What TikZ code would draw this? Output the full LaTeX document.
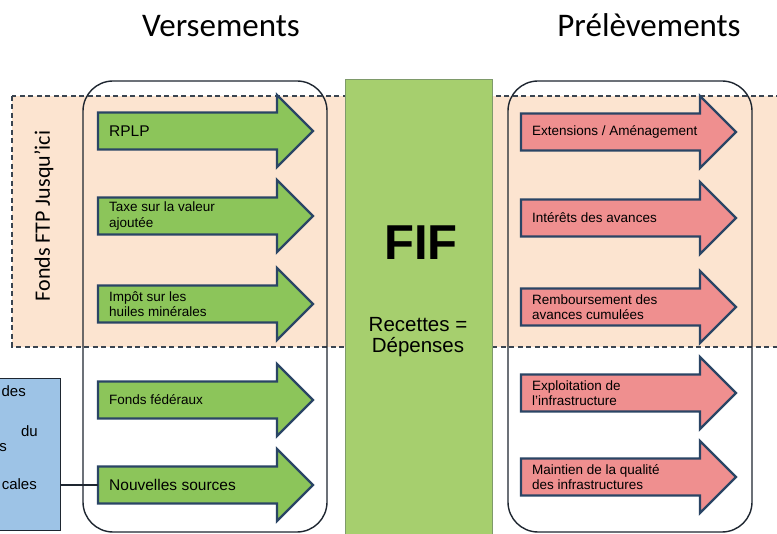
\documentclass[tikz,border=0pt]{standalone}
\usepackage{fontspec}
\setmainfont{Liberation Sans}
\newfontfamily\calfont{Carlito}
\definecolor{peach}{HTML}{FCE4D0}
\definecolor{dashcol}{HTML}{3A4450}
\definecolor{fifgreen}{HTML}{A6CF6E}
\definecolor{fifedge}{HTML}{7E9A6A}
\definecolor{agreen}{HTML}{8CC55A}
\definecolor{ared}{HTML}{EF8F8F}
\definecolor{aedge}{HTML}{2A4565}
\definecolor{bluefill}{HTML}{9DC3E6}
\definecolor{boxline}{HTML}{1E2630}
\tikzset{
  zone/.style={fill=peach, draw=dashcol, line width=1.2pt, dash pattern=on 5pt off 3.5pt},
  panel/.style={draw=boxline, line width=1.4pt, rounded corners=30pt},
  fifbox/.style={fill=fifgreen, draw=fifedge, line width=0.8pt},
  bodybox/.style={inner sep=0pt, minimum width=179pt, minimum height=37pt},
  arrowshape/.style={draw=aedge, line width=2.3pt, line join=miter},
  arrowtext/.style={inner sep=0pt, align=left, font=\fontsize{13.5}{15.5}\selectfont},
  title/.style={font=\calfont\fontsize{33}{33}\selectfont},
  srcbox/.style={fill=bluefill, draw=boxline, line width=1pt, inner sep=0pt},
  srctext/.style={inner sep=0pt, font=\fontsize{15}{17}\selectfont},
  conn/.style={draw=boxline, line width=1.2pt}
}
\newcommand\flowarrow[5]{%
  \node[bodybox, anchor=west] (#1) at (#2,#3) {};
  \path[arrowshape, fill=#4] (#2,#3-18.5) -- (#2+179,#3-18.5) -- (#2+179,#3-36)
     -- (#2+215,#3) -- (#2+179,#3+36) -- (#2+179,#3+18.5) -- (#2,#3+18.5) -- cycle;
  \node[arrowtext, anchor=west] (#1t) at (#2+11,#3) {#5};
}
\begin{document}
\begin{tikzpicture}[x=1pt,y=-1pt]
\useasboundingbox (0,0) rectangle (777,534);
\clip (0,0) rectangle (777,534);
\fill[white] (0,0) rectangle (777,534);

% titles
\node[title, anchor=base] (tvers) at (221,37) {Versements};
\node[title, anchor=base] (tprel) at (649,37) {Prélèvements};

% dashed zone
\path[zone] (12,96) rectangle (800,347);
\node[rotate=90, font=\calfont\fontsize{22}{22}\selectfont] (ftp) at (44,216) {Fonds FTP Jusqu’ici};

% panels
\path[panel] (83,81) rectangle (327,532);
\path[panel] (508,81) rectangle (752,532);

% FIF
\path[fifbox] (345,79) rectangle (492,540);
\node[font=\bfseries\fontsize{49}{49}\selectfont] (fif) at (421,243) {FIF};
\node[align=center, font=\fontsize{20.5}{21}\selectfont] (rd) at (418,337) {Recettes =\\Dépenses};

% green arrows
\flowarrow{g1}{98}{131}{agreen}{\fontsize{15.5}{17}\selectfont RPLP}
\flowarrow{g2}{98}{216}{agreen}{Taxe sur la valeur\\ajoutée}
\flowarrow{g3}{98}{304}{agreen}{Impôt sur les\\huiles minérales}
\flowarrow{g4}{98}{400}{agreen}{Fonds fédéraux}
\flowarrow{g5}{98}{485}{agreen}{\fontsize{15.5}{17}\selectfont Nouvelles sources}

% red arrows
\flowarrow{r1}{521}{132}{ared}{Extensions / Aménagement}
\flowarrow{r2}{521}{218}{ared}{Intérêts des avances}
\flowarrow{r3}{521}{307}{ared}{Remboursement des\\avances cumulées}
\flowarrow{r4}{521}{393}{ared}{Exploitation de\\l’infrastructure}
\flowarrow{r5}{521}{477}{ared}{Maintien de la qualité\\des infrastructures}

% blue source box
\node[srcbox, minimum width=64pt, minimum height=152pt] (src) at (28,455) {};
\node[srctext, anchor=base east] (s1) at (26,397) {des};
\node[srctext, anchor=base east] (s2) at (38,437) {du};
\node[srctext, anchor=base east] (s3) at (7,452) {s};
\node[srctext, anchor=base east] (s4) at (37,490) {cales};

% connector
\path[conn] (src.east |- g5.west) -- (g5.west);
\end{tikzpicture}
\end{document}
